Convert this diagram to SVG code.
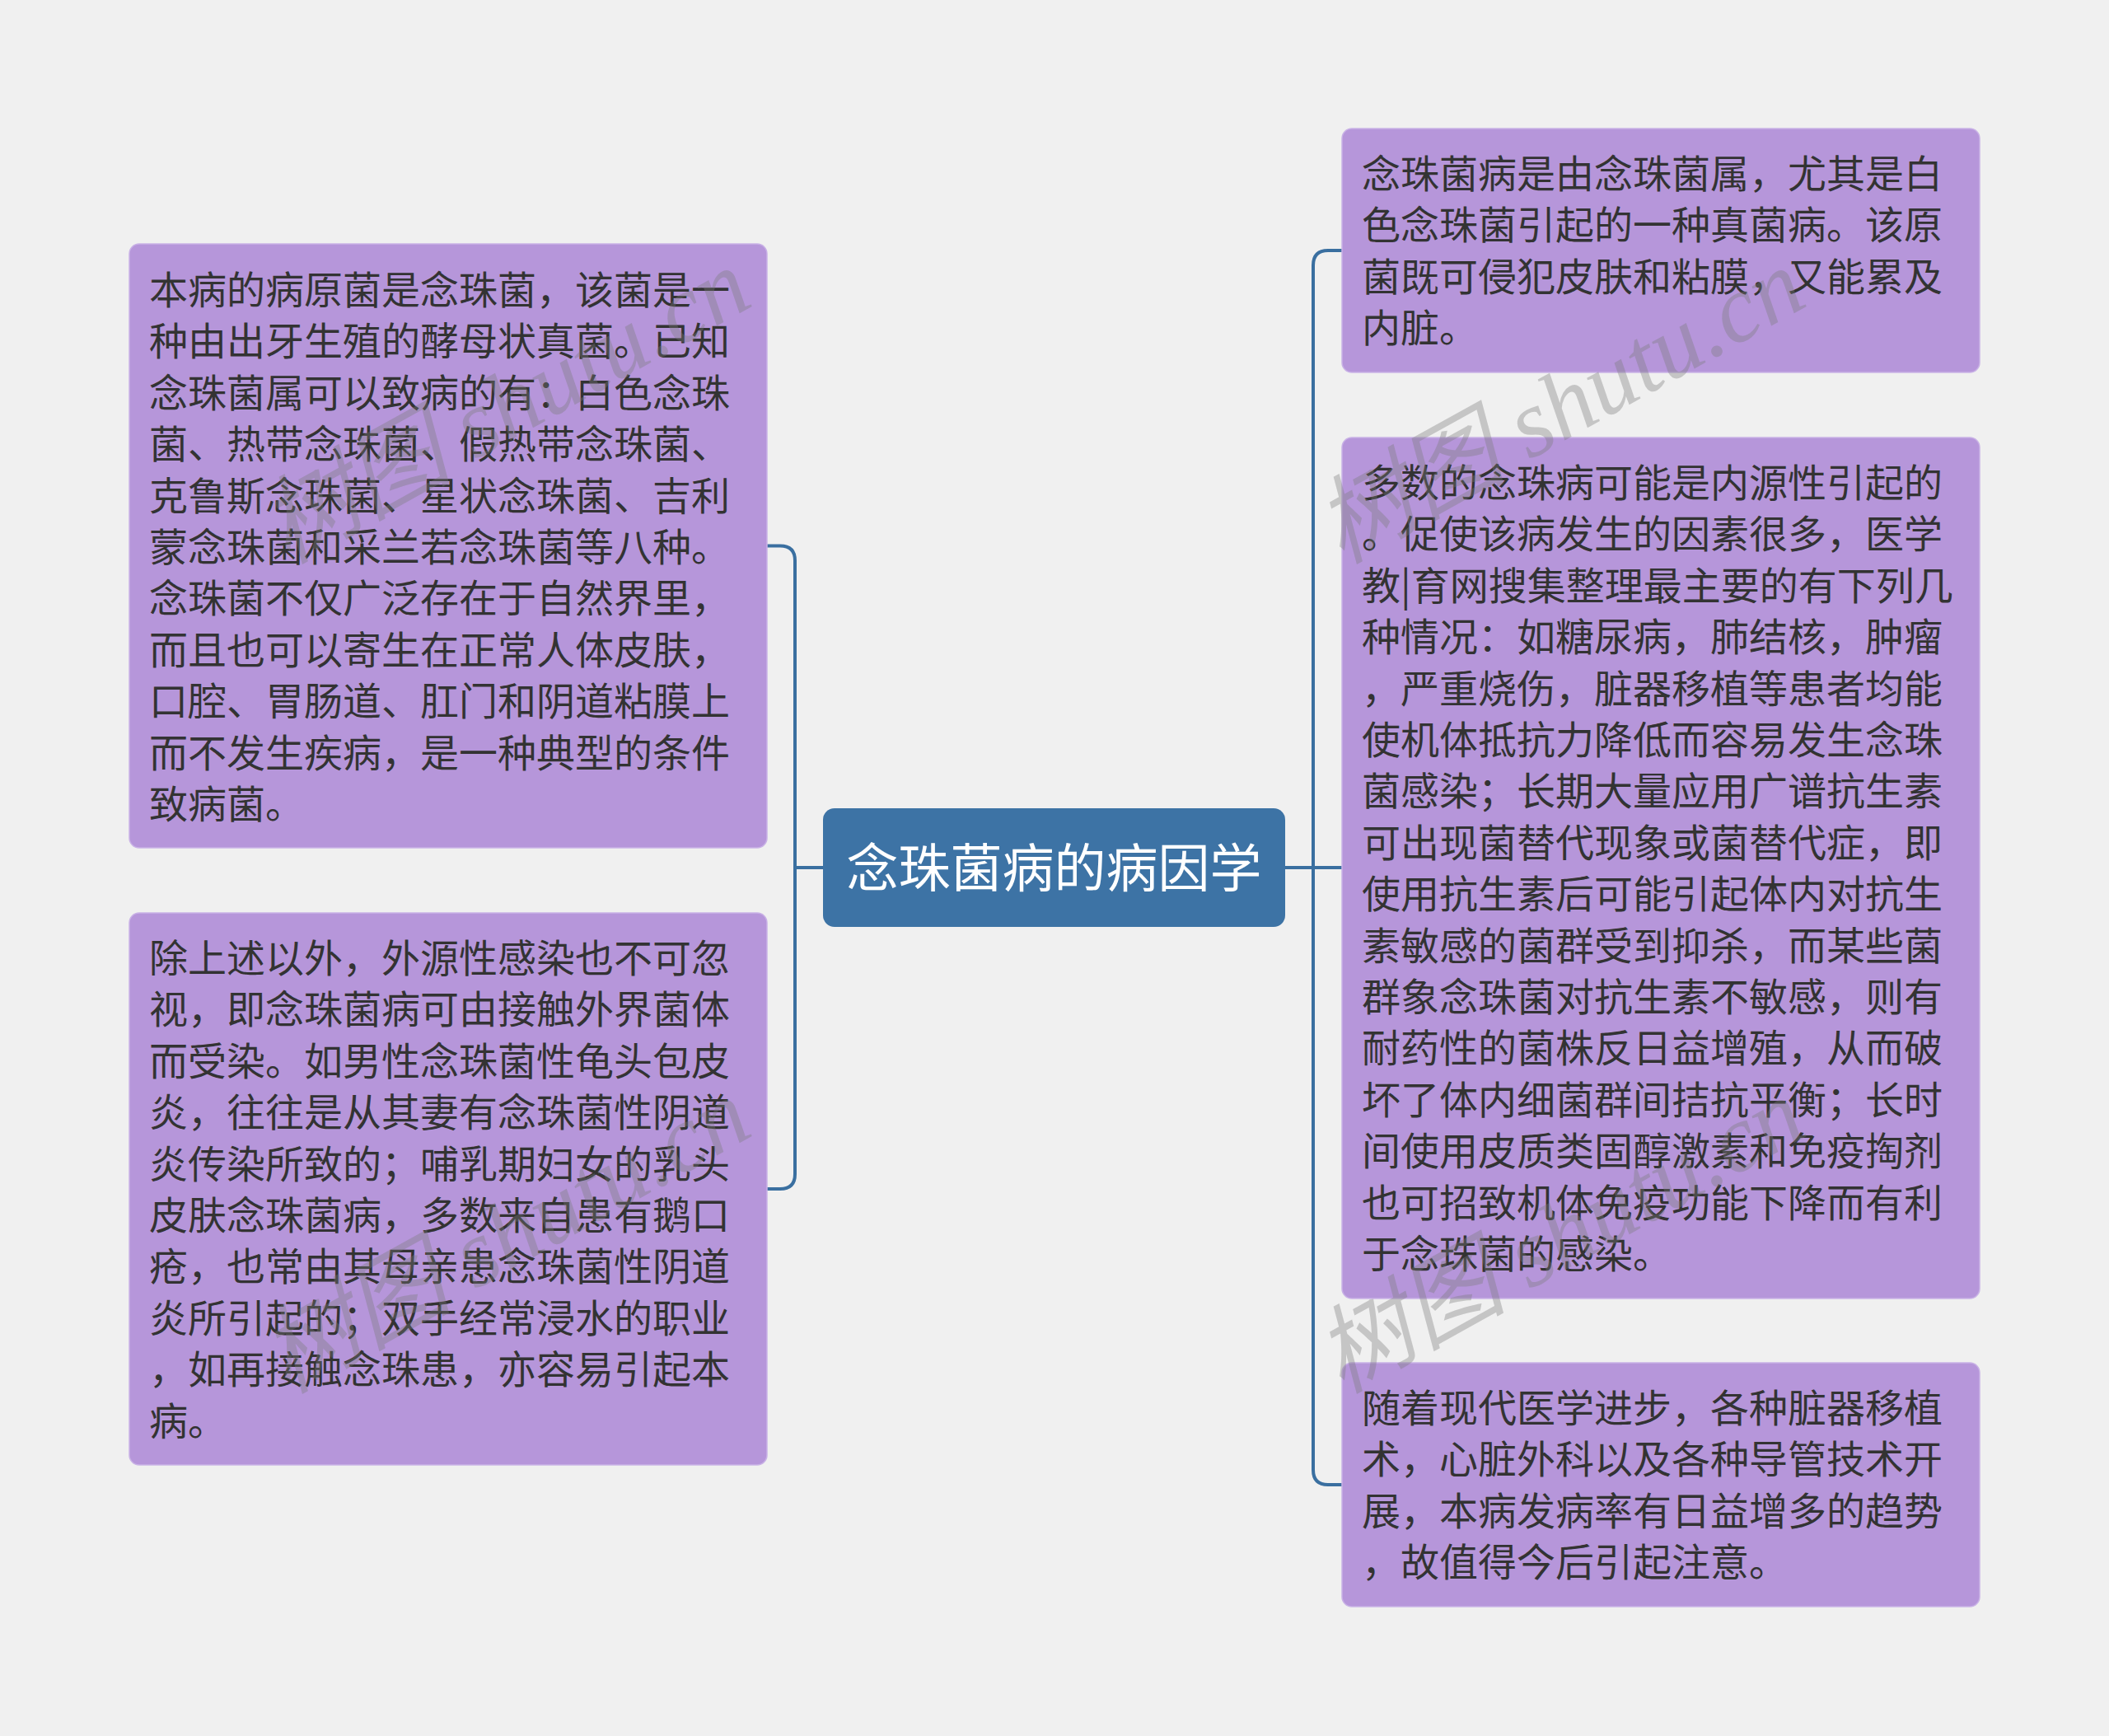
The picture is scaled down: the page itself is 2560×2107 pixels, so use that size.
<svg xmlns="http://www.w3.org/2000/svg" width="2560" height="2107" viewBox="0 0 2560 2107">
<style>
.bg{fill:#F0F0F0}
.sub{fill:#B696DA;stroke:#C9B2E6;stroke-width:1.5}
.root{fill:#3D73A5}
.t{font-family:"Noto Sans CJK SC","Noto Sans",sans-serif;font-size:47px;fill:#333333}
.rt{font-family:"Noto Sans CJK SC","Noto Sans",sans-serif;font-size:63px;fill:#FFFFFF}
.link{fill:none;stroke:#3A6FA0;stroke-width:4}
.wm{font-family:"Liberation Serif","Noto Sans CJK SC",serif;font-style:italic;font-size:116px;fill:#7A7A7A;fill-opacity:0.36}
</style>
<rect class="bg" x="0" y="0" width="2560" height="2107"/>
<g id="connectors">
<path class="link" d="M999 1053 H965"/>
<path class="link" d="M931 662.5 H947 Q965 662.5 965 680.5 V1425 Q965 1443 947 1443 H931"/>
<path class="link" d="M1560 1053 H1629"/>
<path class="link" d="M1629 304 H1612 Q1594 304 1594 322 V1784 Q1594 1802 1612 1802 H1629"/>
</g>
<g id="root">
<rect class="root" x="999" y="981" width="561" height="144" rx="14"/>
<text class="rt" x="1279.5" y="1076" text-anchor="middle">念珠菌病的病因学</text>
</g>
<g id="left1">
<rect class="sub" x="157" y="296" width="774" height="733" rx="12"/>
<text class="t">
<tspan x="181" y="369">本病的病原菌是念珠菌，该菌是一</tspan>
<tspan x="181" y="431.4">种由出牙生殖的酵母状真菌。已知</tspan>
<tspan x="181" y="493.8">念珠菌属可以致病的有：白色念珠</tspan>
<tspan x="181" y="556.2">菌、热带念珠菌、假热带念珠菌、</tspan>
<tspan x="181" y="618.6">克鲁斯念珠菌、星状念珠菌、吉利</tspan>
<tspan x="181" y="681">蒙念珠菌和采兰若念珠菌等八种。</tspan>
<tspan x="181" y="743.4">念珠菌不仅广泛存在于自然界里，</tspan>
<tspan x="181" y="805.8">而且也可以寄生在正常人体皮肤，</tspan>
<tspan x="181" y="868.2">口腔、胃肠道、肛门和阴道粘膜上</tspan>
<tspan x="181" y="930.6">而不发生疾病，是一种典型的条件</tspan>
<tspan x="181" y="993">致病菌。</tspan>
</text>
</g>
<g id="left2">
<rect class="sub" x="157" y="1108" width="774" height="670" rx="12"/>
<text class="t">
<tspan x="181" y="1180">除上述以外，外源性感染也不可忽</tspan>
<tspan x="181" y="1242.4">视，即念珠菌病可由接触外界菌体</tspan>
<tspan x="181" y="1304.8">而受染。如男性念珠菌性龟头包皮</tspan>
<tspan x="181" y="1367.2">炎，往往是从其妻有念珠菌性阴道</tspan>
<tspan x="181" y="1429.6">炎传染所致的；哺乳期妇女的乳头</tspan>
<tspan x="181" y="1492">皮肤念珠菌病，多数来自患有鹅口</tspan>
<tspan x="181" y="1554.4">疮，也常由其母亲患念珠菌性阴道</tspan>
<tspan x="181" y="1616.8">炎所引起的；双手经常浸水的职业</tspan>
<tspan x="181" y="1679.2">，如再接触念珠患，亦容易引起本</tspan>
<tspan x="181" y="1741.6">病。</tspan>
</text>
</g>
<g id="right1">
<rect class="sub" x="1629" y="156" width="774" height="296" rx="12"/>
<text class="t">
<tspan x="1653" y="228">念珠菌病是由念珠菌属，尤其是白</tspan>
<tspan x="1653" y="290.4">色念珠菌引起的一种真菌病。该原</tspan>
<tspan x="1653" y="352.8">菌既可侵犯皮肤和粘膜，又能累及</tspan>
<tspan x="1653" y="415.2">内脏。</tspan>
</text>
</g>
<g id="right2">
<rect class="sub" x="1629" y="531" width="774" height="1045" rx="12"/>
<text class="t">
<tspan x="1653" y="603">多数的念珠病可能是内源性引起的</tspan>
<tspan x="1653" y="665.4">。促使该病发生的因素很多，医学</tspan>
<tspan x="1653" y="727.8">教|育网搜集整理最主要的有下列几</tspan>
<tspan x="1653" y="790.2">种情况：如糖尿病，肺结核，肿瘤</tspan>
<tspan x="1653" y="852.6">，严重烧伤，脏器移植等患者均能</tspan>
<tspan x="1653" y="915">使机体抵抗力降低而容易发生念珠</tspan>
<tspan x="1653" y="977.4">菌感染；长期大量应用广谱抗生素</tspan>
<tspan x="1653" y="1039.8">可出现菌替代现象或菌替代症，即</tspan>
<tspan x="1653" y="1102.2">使用抗生素后可能引起体内对抗生</tspan>
<tspan x="1653" y="1164.6">素敏感的菌群受到抑杀，而某些菌</tspan>
<tspan x="1653" y="1227">群象念珠菌对抗生素不敏感，则有</tspan>
<tspan x="1653" y="1289.4">耐药性的菌株反日益增殖，从而破</tspan>
<tspan x="1653" y="1351.8">坏了体内细菌群间拮抗平衡；长时</tspan>
<tspan x="1653" y="1414.2">间使用皮质类固醇激素和免疫掏剂</tspan>
<tspan x="1653" y="1476.6">也可招致机体免疫功能下降而有利</tspan>
<tspan x="1653" y="1539">于念珠菌的感染。</tspan>
</text>
</g>
<g id="right3">
<rect class="sub" x="1629" y="1654" width="774" height="296" rx="12"/>
<text class="t">
<tspan x="1653" y="1726">随着现代医学进步，各种脏器移植</tspan>
<tspan x="1653" y="1788.4">术，心脏外科以及各种导管技术开</tspan>
<tspan x="1653" y="1850.8">展，本病发病率有日益增多的趋势</tspan>
<tspan x="1653" y="1913.2">，故值得今后引起注意。</tspan>
</text>
</g>
<g id="watermarks">
<text class="wm" transform="translate(348,685) rotate(-29)">树图 shutu.cn</text>
<text class="wm" transform="translate(1628,685) rotate(-29)">树图 shutu.cn</text>
<text class="wm" transform="translate(348,1692) rotate(-29)">树图 shutu.cn</text>
<text class="wm" transform="translate(1628,1692) rotate(-29)">树图 shutu.cn</text>
</g>
</svg>
